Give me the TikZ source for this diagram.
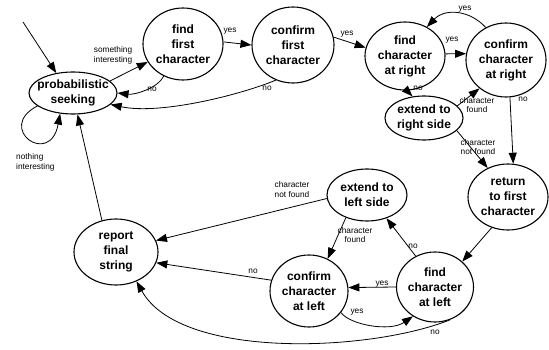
\documentclass[tikz,border=0pt]{standalone}
\usepackage{fontspec}
\setmainfont{Liberation Sans}
\usetikzlibrary{shapes.geometric,arrows.meta}
\begin{document}
\begin{tikzpicture}[x=1pt,y=-1pt,
  state/.style={ellipse, draw, line width=1.1pt, inner sep=0pt},
  txt/.style={font=\fontsize{12}{15}\selectfont\bfseries, align=center, inner sep=0pt},
  lbl/.style={font=\fontsize{8.3}{9.8}\selectfont, align=center, inner sep=0pt},
  arr/.style={-{Triangle[length=11pt,width=8pt]}, line width=0.8pt}]
\useasboundingbox[fill=white] (0,0) rectangle (549,350);
% states
\node[state, minimum width=88pt, minimum height=42pt] (ps) at (73,93) {};
\node[state, minimum width=80pt, minimum height=72pt] (ff) at (183,44) {};
\node[state, minimum width=82pt, minimum height=76pt] (cf) at (293,45) {};
\node[state, minimum width=80pt, minimum height=68pt] (fr) at (405,56) {};
\node[state, minimum width=80pt, minimum height=74pt] (cr) at (506,60) {};
\node[state, minimum width=78pt, minimum height=44pt] (er) at (424,118) {};
\node[state, minimum width=80pt, minimum height=66pt] (rf) at (508,197) {};
\node[state, minimum width=80pt, minimum height=52pt] (el) at (367,195) {};
\node[state, minimum width=78pt, minimum height=72pt] (cl) at (309,291) {};
\node[state, minimum width=77pt, minimum height=70pt] (fl) at (435,287) {};
\node[state, minimum width=84pt, minimum height=66pt] (rp) at (116,252) {};
% texts
\node[txt] (ps-t) at (ps) {probabilistic\\seeking};
\node[txt] (ff-t) at (ff) {find\\first\\character};
\node[txt] (cf-t) at (cf) {confirm\\first\\character};
\node[txt] (fr-t) at (fr) {find\\character\\at right};
\node[txt] (cr-t) at (cr) {confirm\\character\\at right};
\node[txt] (er-t) at (er) {extend to\\right side};
\node[txt] (rf-t) at (rf) {return\\to first\\character};
\node[txt] (el-t) at (el) {extend to\\left side};
\node[txt] (cl-t) at (cl) {confirm\\character\\at left};
\node[txt] (fl-t) at (fl) {find\\character\\at left};
\node[txt] (rp-t) at (rp) {report\\final\\string};
% connectors
\coordinate (in0) at (23,22);
\draw[arr] (in0) -- (ps.130);
\draw[arr] (ps.200) .. controls (-5,128) and (50,168) .. (ps.238);
\draw[arr] (rp.114) -- (ps.282);
\draw[arr] (ps.18) -- (ff.207);
\draw[arr] (ff.239) .. controls (158,88) and (135,95) .. (ps.0);
\draw[arr] (ff.3) -- (cf.180);
\draw[arr] (cf.244) .. controls (240,95) and (160,115) .. (ps.343);
\draw[arr] (cf.11) -- (fr.168);
\draw[arr] (fr.3) -- (cr.171);
\draw[arr] (cr.122) .. controls (470,10) and (445,8) .. (fr.53);
\draw[arr] (fr.273) -- (er.118);
\draw[arr] (er.20) -- (cr.227);
\draw[arr] (er.339) -- (rf.125);
\draw[arr] (cr.276) -- (rf.81);
\draw[arr] (rf.242) -- (fl.43);
\draw[arr] (fl.122) -- (el.310);
\draw[arr] (el.227) -- (cl.60);
\draw[arr] (el.185) -- (rp.16);
\draw[arr] (fl.180) -- (cl.5);
\draw[arr] (cl.326) .. controls (350,325) and (390,332) .. (fl.233);
\draw[arr] (cl.164) -- (rp.345);
\draw[arr] (fl.295) .. controls (370,352) and (180,360) .. (rp.305);
% labels
\node[lbl] (l1) at (113,55.5) {something\\interesting};
\node[lbl, align=left, anchor=west] (l2) at (16,162) {nothing\\interesting};
\node[lbl] (l3) at (152,89.5) {no};
\node[lbl] (l4) at (230,31) {yes};
\node[lbl] (l5) at (267,88) {no};
\node[lbl] (l6) at (347,34) {yes};
\node[lbl] (l7) at (452,40) {yes};
\node[lbl] (l8) at (465,9) {yes};
\node[lbl] (l9) at (418,88) {no};
\node[lbl] (l10) at (477,105) {character\\found};
\node[lbl] (l11) at (478,147) {character\\not found};
\node[lbl] (l12) at (523,99) {no};
\node[lbl] (l13) at (292,189.5) {character\\not found};
\node[lbl] (l14) at (355,235) {character\\found};
\node[lbl] (l15) at (413,246) {no};
\node[lbl] (l16) at (382,284) {yes};
\node[lbl] (l17) at (357,312) {yes};
\node[lbl] (l18) at (435,332) {no};
\node[lbl] (l19) at (253,271) {no};
\end{tikzpicture}
\end{document}
